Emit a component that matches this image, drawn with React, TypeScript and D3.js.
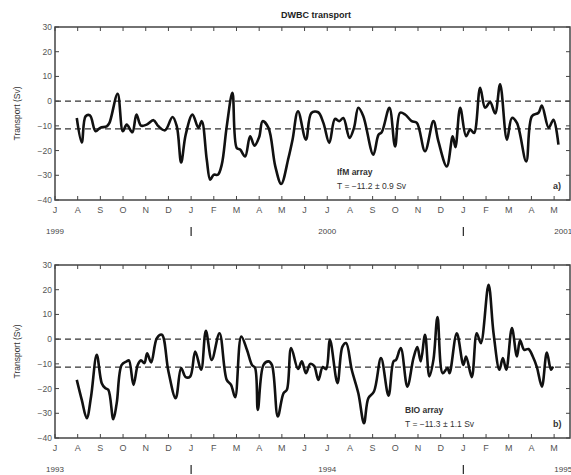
import { useRef, useEffect } from 'react';
import * as d3 from 'd3';

// months counted from July of the first year
const monthLetters = ['J', 'A', 'S', 'O', 'N', 'D', 'J', 'F', 'M', 'A', 'M', 'J', 'J', 'A', 'S', 'O', 'N', 'D', 'J', 'F', 'M', 'A', 'M'];
const yTicks = [-40, -30, -20, -10, 0, 10, 20, 30];

const ifmMonths = [0.96, 1.18, 1.35, 1.54, 1.79, 1.99, 2.28, 2.4, 2.76, 2.99, 3.16, 3.41, 3.59, 3.79, 4.04, 4.34, 4.56, 4.85, 5.18, 5.37, 5.56, 5.76, 6.06, 6.32, 6.47, 6.69, 6.84, 6.99, 7.18, 7.35, 7.57, 7.82, 8.01, 8.16, 8.38, 8.6, 8.79, 9.0, 9.15, 9.41, 9.71, 9.97, 10.29, 10.47, 10.71, 11.06, 11.3, 11.6, 11.83, 12.09, 12.34, 12.53, 12.71, 12.98, 13.18, 13.37, 13.59, 14.03, 14.26, 14.4, 14.74, 14.99, 15.21, 15.43, 15.72, 15.95, 16.31, 16.68, 16.9, 17.27, 17.53, 17.65, 17.86, 18.12, 18.3, 18.47, 18.74, 18.96, 19.18, 19.4, 19.62, 19.92, 20.14, 20.36, 20.77, 21.02, 21.31, 21.46, 21.76, 21.97, 22.19];
const ifmTransport = [-6.8, -16.7, -6.1, -5.8, -12.2, -10.8, -10.2, -8.8, 3.0, -12.2, -9.5, -12.6, -5.4, -9.9, -9.5, -7.7, -10.2, -11.8, -6.4, -10.2, -24.8, -13.6, -5.4, -10.8, -8.1, -23.7, -31.8, -29.8, -29.8, -25.7, -10.2, 3.4, -19, -19.6, -22.4, -14.2, -18, -14.5, -8.1, -10.8, -26.4, -33.5, -23, -15.6, -4.1, -15.6, -4.8, -4.5, -8.8, -16.9, -7.2, -8.1, -6.8, -14.9, -10.8, -2.7, -6.1, -21.7, -13.6, -12.6, -2.7, -18.3, -4.7, -5.4, -8.1, -8.8, -20.3, -8.1, -16.3, -26.4, -14.2, -18.6, -2.7, -14.2, -11.5, -12.9, 5.4, -2.7, -0.4, -5, 6.8, -15.6, -6.8, -8.8, -24.4, -6.1, -4.7, -1.8, -10.8, -7.5, -17.6];

const bioMonths = [0.96, 1.18, 1.4, 1.59, 1.84, 2.06, 2.21, 2.35, 2.57, 2.72, 2.94, 3.16, 3.26, 3.46, 3.65, 3.79, 3.94, 4.06, 4.24, 4.49, 4.71, 5.0, 5.32, 5.56, 5.76, 5.96, 6.18, 6.44, 6.65, 6.91, 7.25, 7.57, 7.76, 7.94, 8.21, 8.46, 8.68, 8.82, 8.94, 9.19, 9.41, 9.56, 9.82, 10.07, 10.22, 10.41, 10.71, 10.88, 11.06, 11.25, 11.42, 11.61, 11.8, 11.95, 12.12, 12.45, 12.67, 12.83, 13.08, 13.37, 13.62, 13.81, 14.06, 14.37, 14.7, 14.92, 15.03, 15.24, 15.53, 15.8, 15.97, 16.12, 16.31, 16.5, 16.68, 16.86, 17.09, 17.3, 17.39, 17.71, 18.0, 18.12, 18.37, 18.59, 18.77, 19.11, 19.33, 19.59, 19.74, 19.89, 20.14, 20.36, 20.5, 20.68, 20.87, 21.06, 21.24, 21.46, 21.68, 21.86, 21.95];
const bioTransport = [-16.5, -24.6, -32, -23.2, -6.3, -17.8, -19.8, -20.5, -32.4, -25.9, -10.4, -9, -8.6, -18.5, -10.4, -8.6, -9.7, -5.7, -9.4, 0.4, 1.8, -13.1, -23.9, -11.7, -15.4, -15.1, -5, -12.4, 3.4, -8.4, 2.4, -16.5, -18.5, -23.5, 1.1, -4.3, -10.4, -11.7, -28.6, -10.4, -9, -10.4, -31.3, -21.9, -20.5, -3.6, -12.1, -9, -13.8, -10, -10.8, -16.5, -11.3, -12.1, -0.3, -17.8, -3, -1.6, -12.4, -21.9, -34, -23.9, -21.2, -7.7, -22.9, -9, -8.4, -3.6, -19.2, -7.7, -3.2, -9, 1.8, -15.1, -8.4, 8.9, -13.8, -11.7, -13.8, 2.4, -10.4, -7, -15.4, 2.4, -1.6, 22, 2.4, -12.4, -7.7, -12.4, 4.5, -7, -0.5, -4.3, -4, -7, -11.3, -19.2, -5.4, -12.4, -11.1];

const panels = [
  { top: 27, bottom: 200, months: ifmMonths, values: ifmTransport, mean: -11.2, name: 'IfM array', stat: 'T = \u221211.2 \u00b1 0.9 Sv', tag: 'a)', textX: 337, years: ['1999', '2000', '2001'] },
  { top: 265, bottom: 438, months: bioMonths, values: bioTransport, mean: -11.3, name: 'BIO array', stat: 'T = \u221211.3 \u00b1 1.1 Sv', tag: 'b)', textX: 405, years: ['1993', '1994', '1995'] },
];
const yearPos = [0, 12, 22.4];
const dividerPos = [6, 18];

const W = 571, H = 475;
const font = 'Liberation Sans, Arial, sans-serif';

const App = () => {
  const svgRef = useRef(null);

  useEffect(() => {
    const svg = d3.select(svgRef.current);
    svg.selectAll('*').remove();
    svg.attr('width', W).attr('height', H);

    const x = d3.scaleLinear().domain([0, 22.7]).range([55, 570]);

    svg.append('text')
      .attr('x', 316).attr('y', 18)
      .attr('text-anchor', 'middle')
      .attr('font-family', font).attr('font-size', 9).attr('font-weight', 'bold')
      .attr('fill', '#222')
      .text('DWBC transport');

    panels.forEach((p) => {
      const y = d3.scaleLinear().domain([-40, 30]).range([p.bottom, p.top]);
      const g = svg.append('g');

      // dashed reference lines (zero and mean)
      [0, p.mean].forEach(v => {
        g.append('line')
          .attr('x1', x(0)).attr('x2', x(22.7))
          .attr('y1', y(v)).attr('y2', y(v))
          .attr('stroke', '#333').attr('stroke-width', 1.2)
          .attr('stroke-dasharray', '6,4');
      });

      // frame
      g.append('rect')
        .attr('x', x(0)).attr('y', y(30))
        .attr('width', x(22.7) - x(0)).attr('height', y(-40) - y(30))
        .attr('fill', 'none').attr('stroke', '#444').attr('stroke-width', 1.5);

      // month ticks, inward top and bottom
      monthLetters.forEach((lbl, i) => {
        g.append('line').attr('x1', x(i)).attr('x2', x(i))
          .attr('y1', y(-40)).attr('y2', y(-40) - 4).attr('stroke', '#444');
        g.append('line').attr('x1', x(i)).attr('x2', x(i))
          .attr('y1', y(30)).attr('y2', y(30) + 4).attr('stroke', '#444');
        g.append('text')
          .attr('x', x(i)).attr('y', p.bottom + 13)
          .attr('text-anchor', 'middle')
          .attr('font-family', font).attr('font-size', 9)
          .attr('fill', '#555')
          .text(lbl);
      });

      // y ticks
      yTicks.forEach(t => {
        g.append('line').attr('x1', x(0)).attr('x2', x(0) + 4)
          .attr('y1', y(t)).attr('y2', y(t)).attr('stroke', '#444');
        g.append('line').attr('x1', x(22.7)).attr('x2', x(22.7) - 4)
          .attr('y1', y(t)).attr('y2', y(t)).attr('stroke', '#444');
        g.append('text')
          .attr('x', x(0) - 3).attr('y', y(t) + 3)
          .attr('text-anchor', 'end')
          .attr('font-family', font).attr('font-size', 8.5)
          .attr('fill', '#555')
          .text(t < 0 ? '\u2212' + Math.abs(t) : t);
      });

      g.append('text')
        .attr('transform', `translate(20,${(p.top + p.bottom) / 2}) rotate(-90)`)
        .attr('text-anchor', 'middle')
        .attr('font-family', font).attr('font-size', 8.5)
        .attr('fill', '#333')
        .text('Transport (Sv)');

      // year labels + dividers
      p.years.forEach((yr, i) => {
        g.append('text')
          .attr('x', x(yearPos[i])).attr('y', p.bottom + 34)
          .attr('text-anchor', 'middle')
          .attr('font-family', font).attr('font-size', 8)
          .attr('fill', '#444')
          .text(yr);
      });
      dividerPos.forEach(m => {
        g.append('line').attr('x1', x(m)).attr('x2', x(m))
          .attr('y1', p.bottom + 27).attr('y2', p.bottom + 36)
          .attr('stroke', '#333').attr('stroke-width', 1.3);
      });

      // series
      const pts = p.months.map((m, i) => [m, p.values[i]]);
      const line = d3.line()
        .x(d => x(d[0]))
        .y(d => y(d[1]))
        .curve(d3.curveCatmullRom.alpha(0.5));
      g.append('path')
        .attr('d', line(pts))
        .attr('fill', 'none')
        .attr('stroke', '#111')
        .attr('stroke-width', 2.6)
        .attr('stroke-linejoin', 'round');

      g.append('text')
        .attr('x', p.textX).attr('y', p.bottom - 25)
        .attr('font-family', font).attr('font-size', 8.5).attr('font-weight', 'bold')
        .attr('fill', '#333')
        .text(p.name);
      g.append('text')
        .attr('x', p.textX).attr('y', p.bottom - 11)
        .attr('font-family', font).attr('font-size', 8.5)
        .attr('fill', '#333')
        .text(p.stat);
      g.append('text')
        .attr('x', 553).attr('y', p.bottom - 11)
        .attr('font-family', font).attr('font-size', 9).attr('font-weight', 'bold')
        .attr('fill', '#333')
        .text(p.tag);
    });
  }, []);

  return (
    <div style={{ position: 'absolute', left: 0, top: 0, background: '#fff' }}>
      <svg ref={svgRef} style={{ display: 'block' }}></svg>
    </div>
  );
};

export default App;
